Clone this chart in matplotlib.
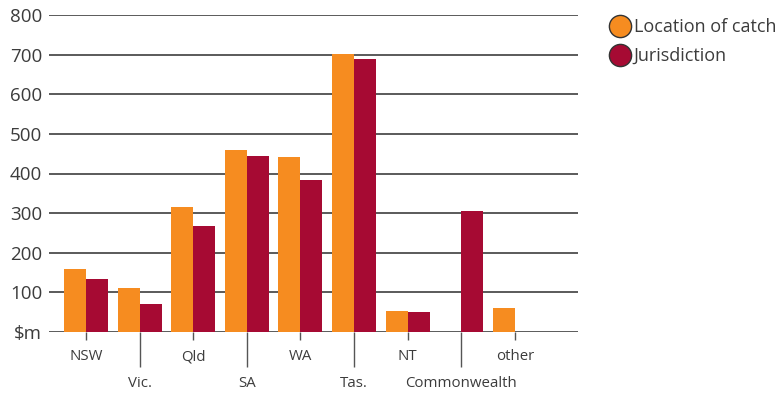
import matplotlib.pyplot as plt
from matplotlib.lines import Line2D
import numpy as np

# Value of catch by state, $m
states = ['NSW', 'Vic.', 'Qld', 'SA', 'WA', 'Tas.', 'NT', 'Commonwealth', 'other']
location_of_catch = [159, 111, 316, 460, 442, 702, 53, 0, 61]
jurisdiction = [134, 71, 268, 444, 384, 689, 50, 306, 0]
y_ticks = [0, 100, 200, 300, 400, 500, 600, 700, 800]
y_tick_labels = ['\\$m', '100', '200', '300', '400', '500', '600', '700', '800']

orange = '#F68C20'
crimson = '#A60A33'
text_grey = '#3C3C3C'

plt.rcParams['font.family'] = 'Open Sans'

fig = plt.figure(figsize=(7.78, 3.94), dpi=100)
ax = fig.add_axes([49 / 778, 62 / 394, 529 / 778, 317 / 394])

x = np.arange(len(states))
width = 0.41
ax.bar(x - width / 2, location_of_catch, width, color=orange, zorder=3)
ax.bar(x + width / 2, jurisdiction, width, color=crimson, zorder=3)

ax.set_xlim(-0.69, 9.18)
ax.set_ylim(0, 800)

# horizontal rules
for y in y_ticks:
    ax.axhline(y, color='#2E2E2E', linewidth=1.1, zorder=2)

for side in ['top', 'right', 'left', 'bottom']:
    ax.spines[side].set_visible(False)

ax.set_yticks(y_ticks)
ax.set_yticklabels(y_tick_labels)
ax.tick_params(axis='y', length=0, pad=5, labelsize=13.5, labelcolor=text_grey)

# alternate labels on two rows: short ticks on top row, long on bottom row
ax.set_xticks(x[::2])
ax.set_xticklabels(states[::2])
ax.set_xticks(x[1::2], minor=True)
ax.set_xticklabels(states[1::2], minor=True)
ax.tick_params(axis='x', which='major', length=5.5, width=1, color='#555555',
               pad=7, labelsize=10.8, labelcolor=text_grey)
ax.tick_params(axis='x', which='minor', length=25, width=1, color='#555555',
               pad=6.5, labelsize=10.8, labelcolor=text_grey)

handles = [
    Line2D([], [], linestyle='none', marker='o', markersize=16,
           markerfacecolor=orange, markeredgecolor='#333333', markeredgewidth=1),
    Line2D([], [], linestyle='none', marker='o', markersize=16,
           markerfacecolor=crimson, markeredgecolor='#333333', markeredgewidth=1),
]
fig.legend(handles, ['Location of catch', 'Jurisdiction'],
           loc='upper left', bbox_to_anchor=(611 / 778, 1 - 18 / 394),
           frameon=False, fontsize=13, labelcolor=text_grey,
           handlelength=1.0, handletextpad=0.25, labelspacing=0.62,
           borderpad=0, borderaxespad=0)

fig.savefig('out.png', dpi=100)
